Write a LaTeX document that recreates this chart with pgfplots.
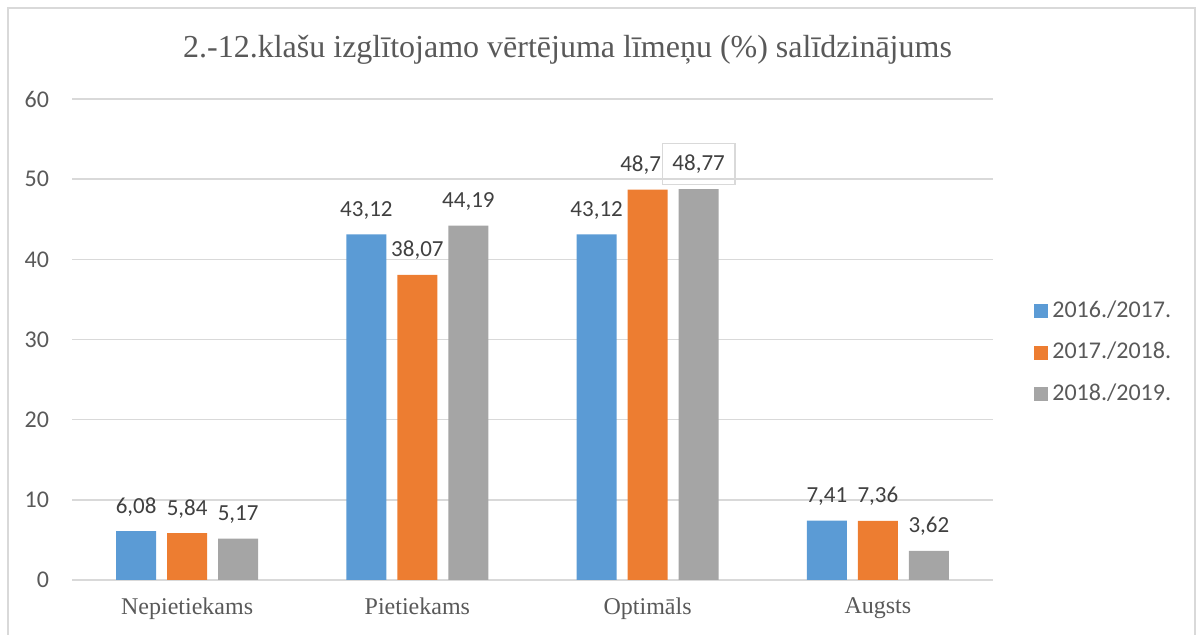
\documentclass[border=0pt]{standalone}
\usepackage{pgfplots}
\pgfplotsset{compat=1.18}
\usepackage{fontspec}
\setmainfont{Liberation Serif}
\newfontfamily\carl{Carlito}
\definecolor{cblue}{HTML}{5B9BD5}
\definecolor{corange}{HTML}{ED7D31}
\definecolor{cgray}{HTML}{A5A5A5}
\definecolor{txt}{HTML}{595959}
\definecolor{lbl}{HTML}{404040}
\definecolor{gridc}{HTML}{D9D9D9}
\begin{document}
\begin{tikzpicture}
\useasboundingbox (0,0) rectangle (600pt,317.5pt);
\draw[gridc, line width=1pt] (4pt,-5pt) -- (4pt,313.5pt) -- (597.5pt,313.5pt) -- (597.5pt,-5pt);
\node[font=\fontsize{16}{18}\selectfont, text=txt, anchor=base, inner sep=0pt] at (283.75pt,288.5pt) {2.-12.klašu izglītojamo vērtējuma līmeņu (\%) salīdzinājums};
\begin{axis}[
  at={(36pt,27.5pt)}, anchor=south west,
  scale only axis, width=460.5pt, height=240.5pt,
  ybar=5.5pt, bar width=20pt,
  xmin=-0.5, xmax=3.5, ymin=0, ymax=60,
  ytick={0,10,...,60},
  xtick={0,1,2,3},
  xticklabels={Nepietiekams,Pietiekams,Optimāls,Augsts},
  ymajorgrids, xmajorgrids=false, grid style={draw=gridc, line width=0.75pt},
  axis x line*=bottom, axis y line*=left,
  y axis line style={draw=none},
  x axis line style={draw=gridc, line width=0.75pt, -},
  major tick length=0pt,
  tick style={draw=none},
  /pgf/number format/assume math mode=true,
  yticklabel style={font=\carl\fontsize{12}{14}\selectfont, text=txt, xshift=-8pt},
  xticklabel style={font=\fontsize{12}{14}\selectfont, text=txt, yshift=-5.5pt},
  nodes near coords,
  nodes near coords style={font=\carl\fontsize{11.5}{13}\selectfont, text=lbl, /pgf/number format/fixed, /pgf/number format/precision=2, /pgf/number format/use comma, /pgf/number format/assume math mode=true, yshift=4pt},
  legend style={draw=none, fill=none, at={(1,0.5)}, anchor=west, xshift=20.5pt, yshift=-6.75pt,
     font=\carl\fontsize{12}{14}\selectfont, text=txt, row sep=6.75pt, inner sep=0pt,
     nodes={inner sep=2pt, text height=8pt, text depth=2pt, anchor=west}},
  legend cell align=left,
  legend image code/.code={\fill[#1, draw=none] (0pt,-3.5pt) rectangle (7pt,3.5pt);},
]
\addplot[fill=cblue, draw=none] coordinates {(0,6.08) (1,43.12) (2,43.12) (3,7.41)};
\addplot[fill=corange, draw=none, coordinate style/.condition={x==2}{xshift=-3.5pt}] coordinates {(0,5.84) (1,38.07) (2,48.7) (3,7.36)};
\addplot[fill=cgray, draw=none, coordinate style/.condition={x==2}{draw=gridc, line width=0.75pt, inner xsep=5pt, inner ysep=5.5pt, yshift=-2pt}] coordinates {(0,5.17) (1,44.19) (2,48.77) (3,3.62)};
\legend{2016./2017.,2017./2018.,2018./2019.}
\end{axis}
\end{tikzpicture}
\end{document}
